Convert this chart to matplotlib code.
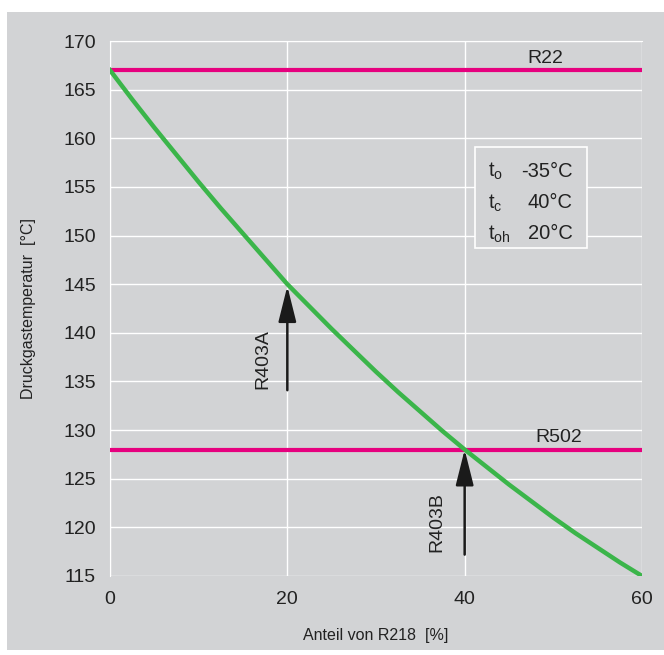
import matplotlib.pyplot as plt
from matplotlib.patches import Rectangle

plt.rcParams['font.family'] = ['Liberation Sans', 'DejaVu Sans']
plt.rcParams['mathtext.default'] = 'regular'

# Anteil von R218 [%] / Druckgastemperatur [°C]
anteil = [0, 2.5, 5, 7.5, 10, 12.5, 15, 17.5, 20, 22.5, 25, 27.5, 30,
          32.5, 35, 37.5, 40, 42.5, 45, 47.5, 50, 52.5, 55, 57.5, 60]
temp_mix = [167.0, 164.0, 161.1, 158.3, 155.5, 152.8, 150.2, 147.6, 145.0,
            142.7, 140.4, 138.2, 136.0, 133.9, 131.9, 129.9, 128.0, 126.2,
            124.4, 122.7, 121.0, 119.4, 117.9, 116.4, 115.0]
r22_temp = 167
r502_temp = 128
x_ticks = [0, 20, 40, 60]
y_ticks = list(range(115, 171, 5))

bg = '#d2d3d5'
pink = '#e6007e'
green = '#3bb54a'
txt = '#222222'

fig = plt.figure(figsize=(6.64, 6.55), dpi=100, facecolor='white')
fig.patches.append(Rectangle((7 / 664, 5 / 655), 657 / 664, 638 / 655,
                             transform=fig.transFigure, facecolor=bg,
                             edgecolor='none', zorder=-10))
ax = fig.add_axes([110 / 664, 1 - 576 / 655, 532 / 664, 535 / 655])
ax.set_facecolor(bg)
ax.set_xlim(0, 60)
ax.set_ylim(115, 170)
ax.set_xticks(x_ticks)
ax.set_yticks(y_ticks)
ax.tick_params(length=0, labelsize=14, colors=txt)
ax.tick_params(axis='y', pad=10)
ax.tick_params(axis='x', pad=11)
ax.grid(True, color='white', linewidth=1)
ax.set_axisbelow(True)
for s in ['left', 'top']:
    ax.spines[s].set_color('white')
for s in ['right', 'bottom']:
    ax.spines[s].set_visible(False)

ax.axhline(r22_temp, color=pink, linewidth=3, zorder=3)
ax.axhline(r502_temp, color=pink, linewidth=3, zorder=3)
ax.plot(anteil, temp_mix, color=green, linewidth=3.2, zorder=4)

ax.text(49.1, 167.75, 'R22', fontsize=14, ha='center', va='baseline', color=txt)
ax.text(50.6, 128.8, 'R502', fontsize=14, ha='center', va='baseline', color=txt)

arrow = dict(arrowstyle='-|>,head_length=2.2,head_width=0.55', color='#1a1a1a', lw=1.8,
             shrinkA=0, shrinkB=0)
ax.annotate('', xy=(20, 144.8), xytext=(20, 134.1), arrowprops=arrow, zorder=5)
ax.annotate('', xy=(40, 128.0), xytext=(40, 117.2), arrowprops=arrow, zorder=5)
ax.text(17.2, 137.3, 'R403A', rotation=90, fontsize=14, ha='center', va='center', color=txt)
ax.text(36.9, 120.5, 'R403B', rotation=90, fontsize=14, ha='center', va='center', color=txt)

ax.add_patch(Rectangle((41.2, 148.7), 12.6, 10.4, facecolor=bg, edgecolor='white',
                       linewidth=1.2, zorder=5))
rows = [('t$_o$', '-35°C', 156.0), ('t$_c$', '40°C', 152.8), ('t$_{oh}$', '20°C', 149.6)]
for lab, val, yy in rows:
    ax.text(42.6, yy, lab, fontsize=14.5, va='baseline', ha='left', color=txt, zorder=6)
    ax.text(52.2, yy, val, fontsize=14.5, va='baseline', ha='right', color=txt, zorder=6)

ax.set_xlabel('Anteil von R218  [%]', fontsize=11.5, color=txt, labelpad=14)
ax.set_ylabel('Druckgastemperatur  [°C]', fontsize=11.5, color=txt, labelpad=20)

fig.savefig('out.png', dpi=100, facecolor='white')
